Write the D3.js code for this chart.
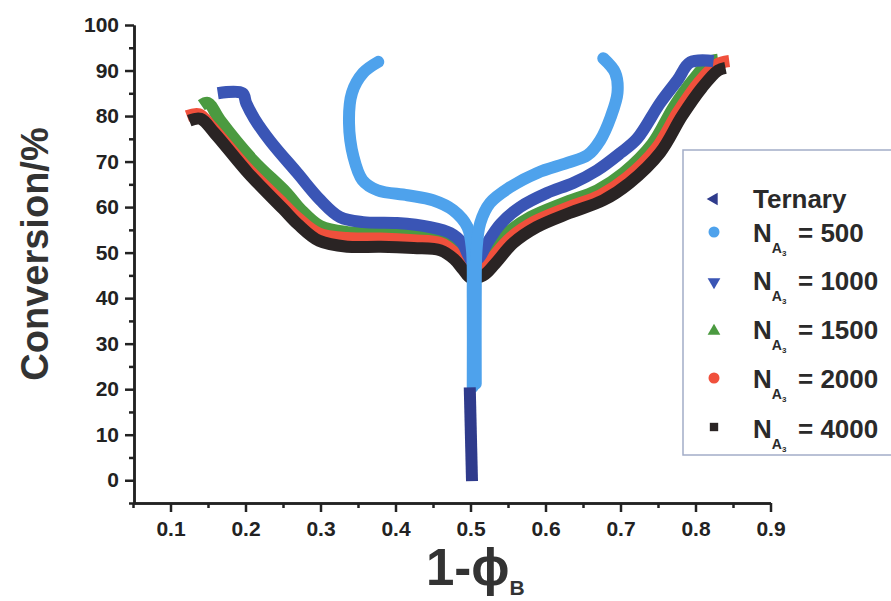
<!DOCTYPE html>
<html><head><meta charset="utf-8">
<script src="https://cdn.jsdelivr.net/npm/d3@7"></script>
<style>body{margin:0;background:#fff}svg{display:block}</style>
</head><body><svg id="c" width="891" height="601"></svg>
<script>
// ---------- data ----------
const xTicks = [0.1,0.2,0.3,0.4,0.5,0.6,0.7,0.8,0.9];
const xMinor = [0.05,0.15,0.25,0.35,0.45,0.55,0.65,0.75,0.85];
const yTicks = [0,10,20,30,40,50,60,70,80,90,100];
const yMinor = [-5,5,15,25,35,45,55,65,75,85,95];
const seriesNames = ["Ternary","500","1000","1500","2000","4000"];

const ternaryPts = [[0.499,20.4],[0.502,-0.2]];
const n500Left = [[0.377,91.9],[0.357,89.5],[0.342,85.1],[0.338,78.5],[0.344,71.0],[0.356,65.9],[0.376,63.7],[0.416,62.6],[0.450,61.5],[0.477,59.3],[0.496,55.6],[0.502,50.5],[0.503,40],[0.503,20.5]];
const n500Right = [[0.677,92.7],[0.693,89.5],[0.696,85.1],[0.687,79.8],[0.673,74.7],[0.656,71.4],[0.629,69.7],[0.589,67.5],[0.553,64.4],[0.526,60.9],[0.513,56.5],[0.508,50.5],[0.507,40],[0.507,21.2]];
const n1000 = [[0.163,85.0],[0.196,85.0],[0.201,82.8],[0.212,79.4],[0.233,74.5],[0.269,67.5],[0.300,61.5],[0.326,57.8],[0.357,56.7],[0.402,56.5],[0.446,55.6],[0.473,54.3],[0.489,52.1],[0.497,49.5],[0.503,48],[0.512,49],[0.522,52],[0.540,56.3],[0.566,60],[0.602,63.1],[0.637,65.3],[0.669,68.1],[0.700,71.9],[0.722,75],[0.753,82.9],[0.776,87.9],[0.793,91.8],[0.824,92.1]];
const n1500 = [[0.141,82.4],[0.150,82.9],[0.166,79.1],[0.210,70.3],[0.255,63.1],[0.273,59.6],[0.300,55.8],[0.336,54.5],[0.380,54.3],[0.424,53.8],[0.460,53.2],[0.477,51.2],[0.489,48.6],[0.5,46.5],[0.513,47],[0.526,49.8],[0.549,54.3],[0.580,57.8],[0.624,60.9],[0.669,63.7],[0.704,67.5],[0.742,73.8],[0.771,82],[0.797,88],[0.818,91.8],[0.83,92.4]];
const n2000 = [[0.122,80.0],[0.138,80.4],[0.156,77.4],[0.202,68.6],[0.25,60.8],[0.27,57.6],[0.298,54.2],[0.336,53.2],[0.380,53.1],[0.424,52.7],[0.460,52.1],[0.478,50.1],[0.49,47.6],[0.5,45.5],[0.515,46],[0.529,48.8],[0.553,53.2],[0.584,56.7],[0.628,59.8],[0.673,62.6],[0.708,66.4],[0.748,73],[0.777,81],[0.804,87.3],[0.828,91.3],[0.845,92.1]];
const n4000 = [[0.125,79.0],[0.14,79.4],[0.159,76.2],[0.204,67.4],[0.25,59.6],[0.27,56.2],[0.298,52.6],[0.336,51.3],[0.380,51.3],[0.424,51.0],[0.460,50.5],[0.478,48.6],[0.49,46.3],[0.5,44.5],[0.517,45],[0.533,47.6],[0.557,52.1],[0.588,55.6],[0.632,58.7],[0.677,61.5],[0.712,65.3],[0.753,72],[0.782,80],[0.809,86.3],[0.83,90],[0.84,90.6]];

// ---------- styles ----------
const col = {Ternary:"#2f3b8c","500":"#4ea2ec","1000":"#3a55b5","1500":"#4b9a40","2000":"#f0503c","4000":"#2a2424"};
const font = "'Liberation Sans', Arial, sans-serif";

const svg = d3.select("#c");
const x = d3.scaleLinear().domain([0.05,0.9]).range([133,770.5]);
const y = d3.scaleLinear().domain([-5,100]).range([503,25]);

const line = d3.line().x(d=>x(d[0])).y(d=>y(d[1])).curve(d3.curveCatmullRom.alpha(0.5));

function drawSeries(pts, c, cap){
  svg.append("path").attr("d", line(pts)).attr("fill","none")
    .attr("stroke", c).attr("stroke-width", 12)
    .attr("stroke-linejoin","round").attr("stroke-linecap", cap||"butt");
}
drawSeries(n1500, col["1500"]);
drawSeries(n2000, col["2000"]);
drawSeries(n4000, col["4000"]);
drawSeries(n1000, col["1000"]);
drawSeries(n500Left, col["500"], "round");
drawSeries(n500Right, col["500"], "round");
drawSeries(ternaryPts, col.Ternary);

// ---------- axes ----------
const axCol = "#222";
function styleAxis(g){
  g.select(".domain").attr("stroke", axCol).attr("stroke-width", 2.5);
  g.selectAll(".tick line").attr("stroke", axCol).attr("stroke-width", 2.5);
  g.selectAll("text").attr("font-family", font).attr("font-weight","bold")
    .attr("font-size", 21).attr("fill", "#222");
}
const gx = svg.append("g").attr("transform","translate(0,503)")
  .call(d3.axisBottom(x).tickValues(xTicks).tickSize(9).tickPadding(9).tickSizeOuter(0).tickFormat(d3.format(".1f")));
styleAxis(gx);
const gxm = svg.append("g").attr("transform","translate(0,503)")
  .call(d3.axisBottom(x).tickValues(xMinor).tickSize(5).tickSizeOuter(0).tickFormat(""));
styleAxis(gxm);
const gy = svg.append("g").attr("transform","translate(134,0)")
  .call(d3.axisLeft(y).tickValues(yTicks).tickSize(9).tickPadding(6).tickSizeOuter(0));
styleAxis(gy);
const gym = svg.append("g").attr("transform","translate(134,0)")
  .call(d3.axisLeft(y).tickValues(yMinor).tickSize(5).tickSizeOuter(0).tickFormat(""));
styleAxis(gym);

// axis titles
svg.append("text").attr("transform","translate(48,254) rotate(-90)")
  .attr("text-anchor","middle").attr("font-family",font).attr("font-weight","bold")
  .attr("font-size",38).attr("fill","#333").text("Conversion/%");
const xt = svg.append("text").attr("x",426).attr("y",585)
  .attr("font-family",font).attr("font-weight","bold").attr("font-size",51).attr("fill","#333");
xt.append("tspan").text("1-\u03D5");
xt.append("tspan").attr("font-size",21).attr("dy",10).text("B");

// ---------- legend ----------
svg.append("rect").attr("x",683).attr("y",150).attr("width",215).attr("height",305)
  .attr("fill","#fff").attr("stroke","#a3adc8").attr("stroke-width",1.5);
const legRows = [
  {name:"Ternary", sym:d3.symbolTriangle, rot:-90, size:70, cy:199, base:208},
  {name:"500", sym:d3.symbolCircle, rot:0, size:95, cy:232, base:242},
  {name:"1000", sym:d3.symbolTriangle, rot:180, size:70, cy:282, base:290},
  {name:"1500", sym:d3.symbolTriangle, rot:0, size:70, cy:331, base:339},
  {name:"2000", sym:d3.symbolCircle, rot:0, size:95, cy:378, base:388},
  {name:"4000", sym:d3.symbolSquare, rot:0, size:70, cy:427, base:438}
];
legRows.forEach(r=>{
  svg.append("path").attr("d", d3.symbol().type(r.sym).size(r.size)())
    .attr("transform",`translate(714,${r.cy}) rotate(${r.rot})`).attr("fill", col[r.name]);
  const t = svg.append("text").attr("x",753).attr("y",r.base)
    .attr("font-family",font).attr("font-weight","bold").attr("font-size",26).attr("fill","#2a2a2a");
  if(r.name==="Ternary"){ t.text("Ternary"); }
  else {
    t.append("tspan").text("N");
    t.append("tspan").attr("font-size",14).attr("dy",11).text("A");
    t.append("tspan").attr("font-size",8).attr("dy",3).text("3");
    t.append("tspan").attr("x",798).attr("dy",-14).text("= " + r.name);
  }
});
</script>
</body></html>
